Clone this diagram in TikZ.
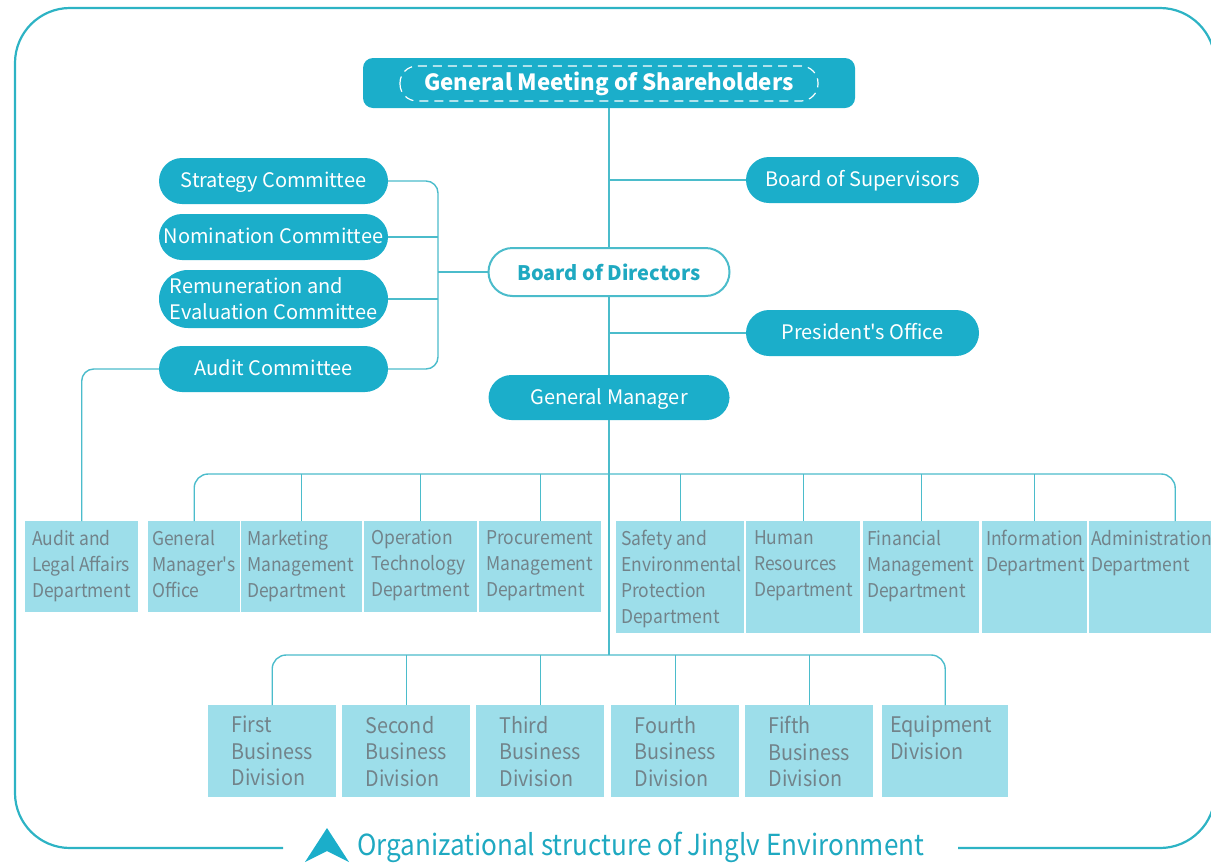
\documentclass[tikz,border=0pt]{standalone}
\usepackage{fontspec}
\setmainfont{Noto Sans CJK SC}[Ligatures=TeXOff]
\newfontfamily\narrowfont{Noto Sans CJK SC}[Ligatures=TeXOff, FakeStretch=0.92]
\newfontfamily\capfont{Noto Sans CJK SC}[Ligatures=TeXOff, FakeStretch=0.9]
\usetikzlibrary{calc}
\definecolor{deep}{HTML}{1BAECA}
\definecolor{pale}{HTML}{9DDEEA}
\definecolor{wirec}{HTML}{4BBCCB}
\definecolor{rim}{HTML}{2DB3C4}
\definecolor{ink}{HTML}{72838A}
\definecolor{titlec}{HTML}{1FA9C1}

\begin{document}
\begin{tikzpicture}[x=1pt,y=-1pt,
  pill/.style={rectangle, rounded corners=23pt, fill=deep, text=white,
    minimum width=229pt, minimum height=46pt, inner sep=0pt,
    text height=14pt, text depth=0.5pt,
    font=\fontsize{20}{26}\selectfont},
  dept/.style={rectangle, fill=pale, anchor=north west, inner sep=0pt,
    minimum height=91pt},
  tall/.style={dept, minimum height=112pt},
  dtext/.style={anchor=north west, inner sep=0pt, align=left, text=ink,
    font=\narrowfont\fontsize{19}{26}\selectfont},
  division/.style={rectangle, fill=pale, anchor=north west, inner sep=0pt,
    minimum width=128pt, minimum height=92pt},
  vtext/.style={anchor=north, inner sep=0pt, align=left, text=ink,
    font=\narrowfont\fontsize{21.5}{26.5}\selectfont},
  wire/.style={draw=wirec, line width=1.4pt},
]
\useasboundingbox (0,0) rectangle (1211,863);
\clip (0,0) rectangle (1211,863);

% outer frame, open at the bottom for the caption
\draw[rim, line width=2.2pt, rounded corners=55pt]
  (283,848) -- (15,848) -- (15,8) -- (1215,8) -- (1215,848) -- (958,848);

% caption
\fill[deep] (305,862) -- (327,828) -- (349,862) -- (327,851) -- cycle;
\node[anchor=west, inner sep=0pt, text=titlec, font=\capfont\fontsize{29}{30}\selectfont]
  (cap) at (357,847) {Organizational structure of Jinglv Environment};

% top of the hierarchy
\node[rectangle, rounded corners=10pt, fill=deep, text=white, inner sep=0pt,
  minimum width=492pt, minimum height=50pt, text height=16pt, text depth=0.5pt,
  font=\fontsize{22.3}{28}\selectfont\bfseries] (gms) at (609,83)
  {General Meeting of Shareholders};
\draw[white, line width=1.2pt, dash pattern=on 9pt off 6pt, rounded corners=17pt]
  ($(gms.center)+(-209,-17)$) rectangle ($(gms.center)+(209,18)$);

\node[pill, minimum width=233pt] (sup) at (862.5,180) {Board of Supervisors};
\node[pill, fill=white, draw=wirec, line width=2pt, text=titlec,
  minimum width=241pt, minimum height=48pt, rounded corners=24pt,
  text height=, text depth=,
  font=\fontsize{20}{26}\selectfont\bfseries] (bod) at (609,272) {Board of Directors};
\node[pill, minimum width=233pt] (pres) at (862.5,333) {President's Office};
\node[pill, minimum width=241pt, minimum height=45pt] (gm) at (609,397.5) {General Manager};

% committees
\node[pill] (strat) at (273.5,181) {Strategy Committee};
\node[pill] (nomc) at (273.5,237) {Nomination Committee};
\node[pill, minimum height=58pt, rounded corners=29pt, align=left,
  text height=, text depth=] (remc) at (273.5,299)
  {Remuneration and\\Evaluation Committee};
\node[pill] (audc) at (273.5,369) {Audit Committee};

% departments
\node[dept, minimum width=113pt] (aud) at (25,521) {};
\node[dept, minimum width=92pt]  (gmo) at (148,521) {};
\node[dept, minimum width=121pt] (mkt) at (241,521) {};
\node[dept, minimum width=113pt] (opt) at (364,521) {};
\node[dept, minimum width=122pt] (pro) at (479,521) {};
\node[tall, minimum width=128pt] (saf) at (616,521) {};
\node[tall, minimum width=114pt] (hr)  at (746,521) {};
\node[tall, minimum width=116pt] (fin) at (863,521) {};
\node[tall, minimum width=105pt] (inf) at (982,521) {};
\node[tall, minimum width=172pt] (adm) at (1089,521) {};

\node[dtext] (aud-t) at ($(aud.north west)+(7,9)$) {Audit and\\Legal Affairs\\Department};
\node[dtext] (gmo-t) at ($(gmo.north west)+(4,9)$) {General\\Manager's\\Office};
\node[dtext] (mkt-t) at ($(mkt.north west)+(6,9)$) {Marketing\\Management\\Department};
\node[dtext] (opt-t) at ($(opt.north west)+(7,9)$) {Operation\\Technology\\Department};
\node[dtext] (pro-t) at ($(pro.north west)+(7,9)$) {Procurement\\Management\\Department};
\node[dtext] (saf-t) at ($(saf.north west)+(5,9)$) {Safety and\\Environmental\\Protection\\Department};
\node[dtext] (hr-t)  at ($(hr.north west)+(8,9)$) {Human\\Resources\\Department};
\node[dtext] (fin-t) at ($(fin.north west)+(4,9)$) {Financial\\Management\\Department};
\node[dtext] (inf-t) at ($(inf.north west)+(4,9)$) {Information\\Department};
\node[dtext] (adm-t) at ($(adm.north west)+(2,9)$) {Administration\\Department};

% business divisions
\node[division] (d1) at (208,705) {};
\node[division] (d2) at (342,705) {};
\node[division] (d3) at (476,705) {};
\node[division] (d4) at (611,705) {};
\node[division] (d5) at (745,705) {};
\node[division, minimum width=126pt] (deq) at (882,705) {};

\node[vtext] (d1-t) at ($(d1.north)+(0,11)$) {First\\Business\\Division};
\node[vtext] (d2-t) at ($(d2.north)+(0,11)$) {Second\\Business\\Division};
\node[vtext] (d3-t) at ($(d3.north)+(0,11)$) {Third\\Business\\Division};
\node[vtext] (d4-t) at ($(d4.north)+(0,11)$) {Fourth\\Business\\Division};
\node[vtext] (d5-t) at ($(d5.north)+(0,11)$) {Fifth\\Business\\Division};
\node[vtext] (deq-t) at ($(deq.north)+(-4,11)$) {Equipment\\Division};

% junction points
\coordinate (bk) at (438,272);
\coordinate (dbar) at (609,474);
\coordinate (vbar) at (609,655);

% trunk
\draw[wire] (gms.south) -- (bod.north);
\draw[wire] (bod.south) -- (gm.north);
\draw[wire] (gm.south) -- (vbar);
\draw[wire] (sup.west) -- (sup.west -| gms.south);
\draw[wire] (pres.west) -- (pres.west -| gms.south);

% committee bracket
\draw[wire, rounded corners=12pt] (strat.east) -| (bk |- audc.east) -- (audc.east);
\draw[wire] (nomc.east) -- (bk |- nomc.east);
\draw[wire] (remc.east) -- (bk |- remc.east);
\draw[wire] (bk) -- (bod.west);
\draw[wire, rounded corners=12pt] (audc.west) -| (aud.north);

% department bar
\draw[wire, rounded corners=14pt] (gmo.north) |- (adm.north |- dbar) -- (adm.north);
\foreach \n in {mkt,opt,pro,saf,hr,fin,inf}
  \draw[wire] (\n.north) -- (\n.north |- dbar);

% division bar
\draw[wire, rounded corners=14pt] (d1.north) |- (deq.north |- vbar) -- (deq.north);
\foreach \n in {d2,d3,d4,d5}
  \draw[wire] (\n.north) -- (\n.north |- vbar);
\end{tikzpicture}
\end{document}
